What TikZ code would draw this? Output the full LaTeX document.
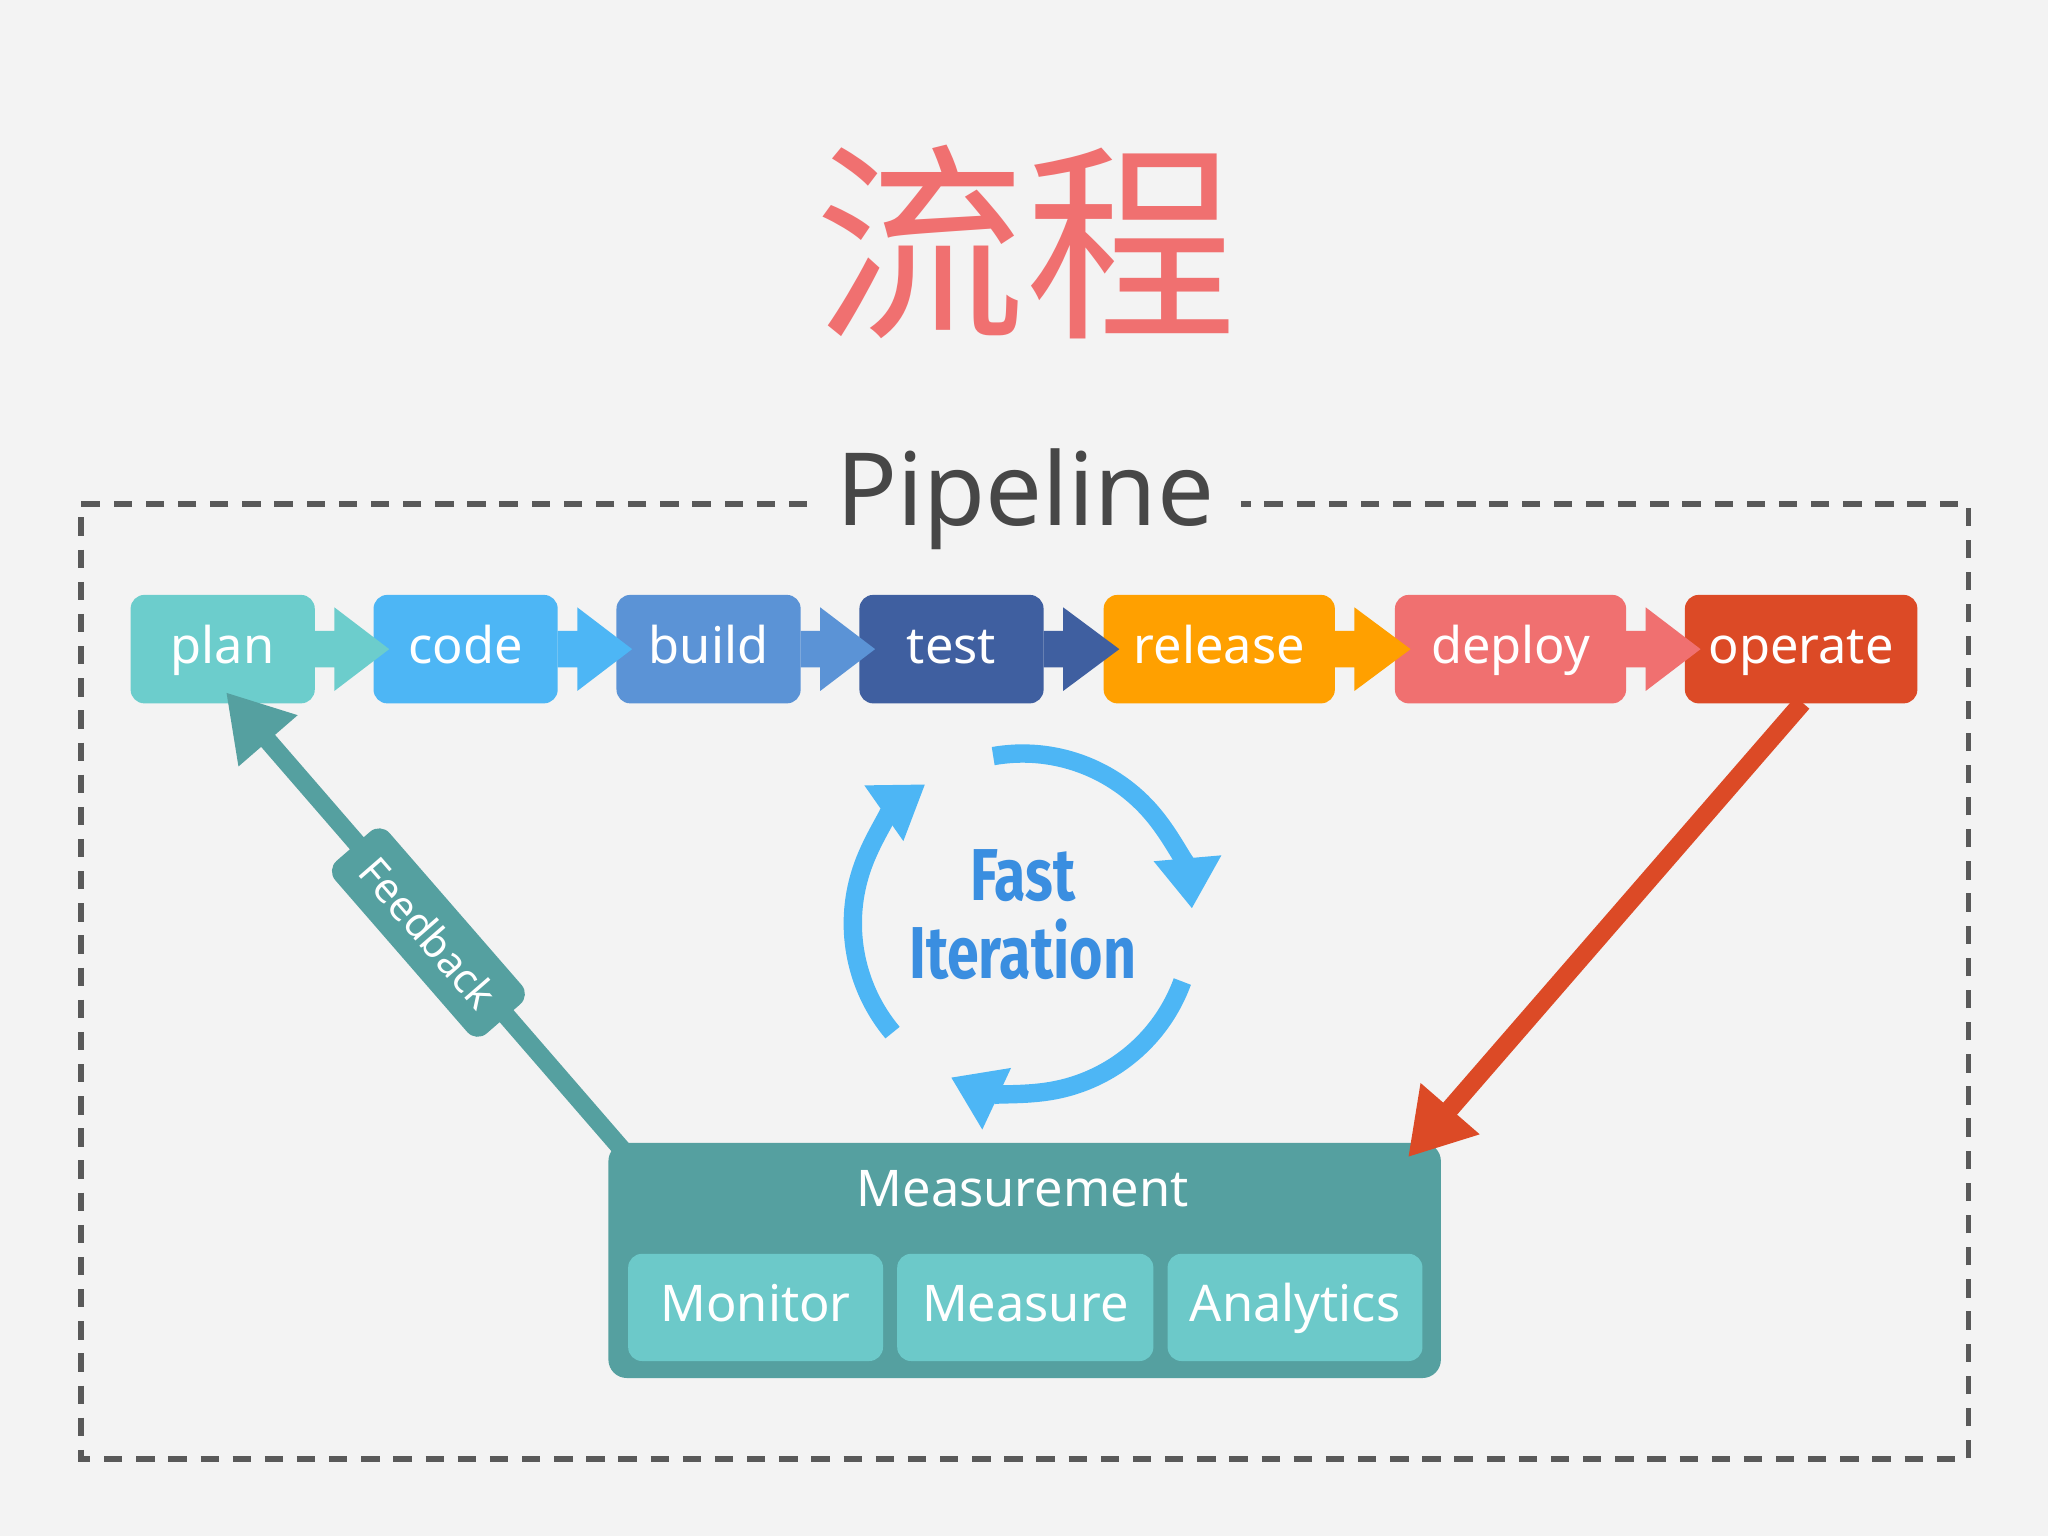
\documentclass[tikz,border=0pt]{standalone}
\usepackage{fontspec}
\setmainfont{Noto Sans}
\newfontfamily\cjk{Noto Sans CJK SC}
\newfontfamily\cond[FakeStretch=0.78]{Fira Sans}
\usetikzlibrary{arrows.meta}
\definecolor{bg}{HTML}{F3F3F3}
\definecolor{cplan}{HTML}{6CCDCC}
\definecolor{ccode}{HTML}{4DB6F5}
\definecolor{cbuild}{HTML}{5B93D6}
\definecolor{ctest}{HTML}{3F5FA0}
\definecolor{crel}{HTML}{FFA000}
\definecolor{cdep}{HTML}{F07070}
\definecolor{cop}{HTML}{DC4A26}
\definecolor{cteal}{HTML}{55A0A0}
\definecolor{csub}{HTML}{6CC9C9}
\definecolor{cfast}{HTML}{3A8EE0}
\begin{document}
\begin{tikzpicture}[x=0.01cm,y=-0.01cm,
  stage/.style={rounded corners=3pt,text=white,font=\fontsize{11pt}{13pt}\selectfont,inner sep=0,text height=1.6ex,text depth=0.45ex},
  sub/.style={fill=csub,rounded corners=3pt,text=white,font=\fontsize{11pt}{13pt}\selectfont,inner sep=0,text height=1.6ex,text depth=0.45ex}]
\fill[bg] (0,0) rectangle (1568,1176);
\useasboundingbox (0,0) rectangle (1568,1176);
\node (title) at (785,185) {\cjk\fontsize{46pt}{50pt}\selectfont\color{cdep}流程};
\draw[gray!70!black,line width=1.2pt,dash pattern=on 4pt off 3pt] (618,386) -- (62,386) -- (62,1117) -- (1507,1117) -- (1507,386) -- (950,386);
\node (pipe) at (785,382) {\fontsize{22pt}{26pt}\selectfont\color{black!72}Pipeline};
% stages
\foreach \n/\a/\b/\c/\t in {plan/100/241/cplan/plan,code/286/427/ccode/code,build/472/613/cbuild/build,test/658/799/ctest/test,rel/845/1022/crel/release,dep/1068/1245/cdep/deploy,op/1290/1468/cop/operate}{
  \node[stage,fill=\c,minimum width={(\b-\a)*0.01cm},minimum height=0.83cm] (\n) at ({(\a+\b)/2},497) {\t};
}
% chevrons
\foreach \x/\y/\c in {241/286/cplan,427/472/ccode,613/658/cbuild,799/845/ctest,1022/1068/crel,1245/1290/cdep}{
  \fill[\c] (\x,483) -- (\x+15,483) -- (\x+15,465) -- (\y+12,497) -- (\x+15,529) -- (\x+15,511) -- (\x,511) -- cycle;
}
% measurement
\node[fill=cteal,rounded corners=4pt,minimum width=6.37cm,minimum height=1.8cm,inner sep=0] (meas) at (784.5,965) {};
\node[text=white,font=\fontsize{11pt}{13pt}\selectfont] (mlabel) at (783,910) {Measurement};
\node[sub,minimum width=1.95cm,minimum height=0.82cm] (mon) at (578.5,1001) {Monitor};
\node[sub,minimum width=1.96cm,minimum height=0.82cm] (mes) at (785,1001) {Measure};
\node[sub,minimum width=1.95cm,minimum height=0.82cm] (ana) at (991.5,1001) {Analytics};
% feedback
\coordinate (fbs) at (478,882);
\coordinate (fbe) at (173,530);
\draw[cteal,line width=4pt,-{Triangle[length=14pt,width=16pt]}] (fbs) -- (fbe);
\node[fill=cteal,rounded corners=3pt,rotate=-49,minimum width=1.75cm,minimum height=0.55cm,text=white,font=\fontsize{9pt}{11pt}\selectfont,inner sep=0] (fb) at (328,714) {Feedback};
% operate arrow
\coordinate (ope) at (1078,886);
\draw[cop,line width=4pt,-{Triangle[length=14pt,width=16pt]}] (1380,538) -- (ope);
% fast iteration circle
\coordinate (cc) at (783,707);
\foreach \s/\e in {100/5,-20/-115,-140/-235}{
  \draw[ccode,line width=4pt,-{Triangle[length=11pt,width=14pt]}] ([shift={(\s:1.3cm)}]cc) arc[start angle=\s,end angle=\e,radius=1.3cm];
}
\node[text=cfast,font=\cond\bfseries\fontsize{16pt}{17pt}\selectfont,align=center] (fast) at (783,700) {Fast\\Iteration};
\end{tikzpicture}
\end{document}
